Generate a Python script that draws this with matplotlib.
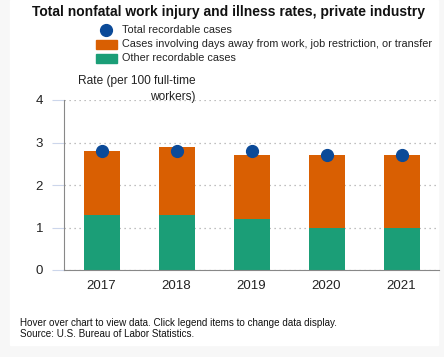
import numpy as np
import matplotlib.pyplot as plt

years = ["2017", "2018", "2019", "2020", "2021"]
other_cases = [1.3, 1.3, 1.2, 1.0, 1.0]
dart_cases = [1.5, 1.6, 1.5, 1.7, 1.7]
total_cases = [2.8, 2.8, 2.8, 2.7, 2.7]

c_total = "#0b4a98"
c_dart = "#d95f02"
c_other = "#1b9e77"

plt.rcParams["font.family"] = ["Liberation Sans", "DejaVu Sans"]

W, H = 444, 357
fig = plt.figure(figsize=(W / 100, H / 100), dpi=100)
fig.patch.set_facecolor("#f7f7f7")
renderer = fig.canvas.get_renderer()


def fit(txt, width_px):
    # shrink/grow a text so that it spans width_px pixels
    w = txt.get_window_extent(renderer).width
    txt.set_fontsize(txt.get_fontsize() * width_px / w)


# white card
fig.add_artist(plt.Rectangle((10 / W, 1 - 345 / H), 428 / W, 345 / H,
                             transform=fig.transFigure, color="white", zorder=0))

ax = fig.add_axes([64 / W, 1 - 270 / H, 375 / W, 170 / H])
ax.set_facecolor("none")
x = np.arange(len(years))

ax.bar(x, other_cases, width=0.48, color=c_other, zorder=2)
ax.bar(x, dart_cases, width=0.48, bottom=other_cases, color=c_dart, zorder=2)
ax.plot(x, total_cases, "o", color=c_total, markersize=8.5, zorder=3)

ax.set_xlim(-0.5, 4.5)
ax.set_ylim(0, 4)
ax.set_yticks([0, 1, 2, 3, 4])
ax.set_xticks(x)
ax.set_xticklabels(years)
ax.tick_params(axis="y", length=9, color="#ccd6eb", labelsize=9.5, pad=6)
ax.tick_params(axis="x", length=0, labelsize=9.5, pad=7)
for t in ax.get_yticklabels() + ax.get_xticklabels():
    t.set_color("#222222")
ax.grid(axis="y", linestyle=(0, (1, 3)), color="#aaaaaa", linewidth=0.9, zorder=1)
ax.set_axisbelow(True)
for s in ["top", "right"]:
    ax.spines[s].set_visible(False)
ax.spines["left"].set_color("#888888")
ax.spines["bottom"].set_color("#888888")

# y label
yl1 = fig.text(137 / W, 1 - 81 / H, "Rate (per 100 full-time", ha="center",
               va="center", fontsize=9, color="#222222")
fit(yl1, 118)
fig.text(173 / W, 1 - 97 / H, "workers)", ha="center", va="center",
         fontsize=yl1.get_fontsize(), color="#222222")

# title
title = fig.text(228 / W, 1 - 12 / H,
                 "Total nonfatal work injury and illness rates, private industry",
                 ha="center", va="center", fontsize=10, fontweight="bold", color="#111111")
fit(title, 393)

# legend
fig.add_artist(plt.Line2D([106 / W], [1 - 30 / H], marker="o", markersize=8.5,
                          color=c_total, transform=fig.transFigure))
fig.add_artist(plt.Rectangle((96 / W, 1 - 48.5 / H), 21 / W, 8 / H,
                             transform=fig.transFigure, color=c_dart))
fig.add_artist(plt.Rectangle((96 / W, 1 - 62.5 / H), 21 / W, 8 / H,
                             transform=fig.transFigure, color=c_other))
leg_labels = ["Total recordable cases",
              "Cases involving days away from work, job restriction, or transfer",
              "Other recordable cases"]
leg_texts = [fig.text(122 / W, 1 - (30 + 14 * i) / H, lab, ha="left", va="center",
                      fontsize=8, color="#222222") for i, lab in enumerate(leg_labels)]
fit(leg_texts[1], 310)
for t in leg_texts:
    t.set_fontsize(leg_texts[1].get_fontsize())

f1 = fig.text(20 / W, 1 - 323 / H,
              "Hover over chart to view data. Click legend items to change data display.",
              ha="left", va="center", fontsize=7, color="#111111")
fit(f1, 318)
fig.text(20 / W, 1 - 334 / H, "Source: U.S. Bureau of Labor Statistics.",
         ha="left", va="center", fontsize=f1.get_fontsize(), color="#111111")

fig.savefig("out.png", dpi=100)
